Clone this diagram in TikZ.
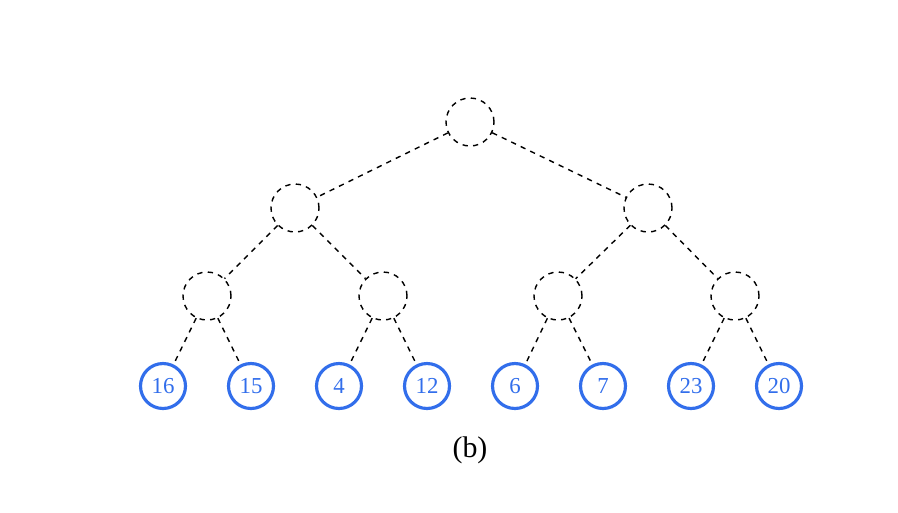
\documentclass[tikz,border=0pt]{standalone}
\usepackage{fontspec}
\setmainfont{Liberation Serif}
\definecolor{leafBlue}{RGB}{50,110,235}
\tikzset{
  empty/.style = {draw,circle,dashed,thick,minimum size=0.96cm,inner sep=0pt},
  leaf/.style  = {draw=leafBlue,circle,line width=1.8pt,minimum size=0.9cm,inner sep=0pt,
                  text=leafBlue,font=\fontsize{13}{13}\selectfont},
  edge/.style  = {dashed,thick}
}
\begin{document}
\begin{tikzpicture}[x=0.02cm,y=-0.02cm]
    \useasboundingbox (0,0) rectangle (898,512);

    \node[empty] (n) at (470,122) {};
    \node[empty] (nL) at (295,208) {};
    \node[empty] (nR) at (648,208) {};
    \node[empty] (nLL) at (207,296) {};
    \node[empty] (nLR) at (383,296) {};
    \node[empty] (nRL) at (558,296) {};
    \node[empty] (nRR) at (735,296) {};

    \foreach \v [count=\i] in {16,15,4,12,6,7,23,20}{% leaves of the tree
      \node[leaf] (l\i) at (163+88*\i-88,386) {\v};
    }

    \draw[edge] (n) -- (nL);
    \draw[edge] (n) -- (nR);
    \draw[edge] (nL) -- (nLL);
    \draw[edge] (nL) -- (nLR);
    \draw[edge] (nR) -- (nRL);
    \draw[edge] (nR) -- (nRR);
    \draw[edge] (nLL) -- (l1);
    \draw[edge] (nLL) -- (l2);
    \draw[edge] (nLR) -- (l3);
    \draw[edge] (nLR) -- (l4);
    \draw[edge] (nRL) -- (l5);
    \draw[edge] (nRL) -- (l6);
    \draw[edge] (nRR) -- (l7);
    \draw[edge] (nRR) -- (l8);

    \node[font=\fontsize{17}{17}\selectfont] (cap) at (470,450) {(b)};
\end{tikzpicture}
\end{document}
